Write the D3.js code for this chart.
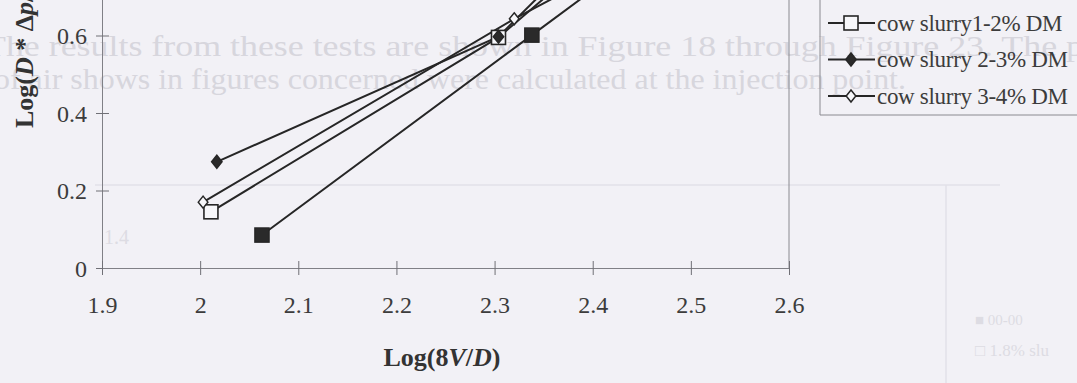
<!DOCTYPE html>
<html>
<head>
<meta charset="utf-8">
<script src="https://cdn.jsdelivr.net/npm/d3@7"></script>
<style>
  html, body { margin: 0; padding: 0; background: #f2f1f6; }
  svg { display: block; }
</style>
</head>
<body>
<svg id="chart" width="1077" height="383"></svg>
<script>
// Axis ticks
const xTicks = [1.9, 2, 2.1, 2.2, 2.3, 2.4, 2.5, 2.6];
const yTicks = [0, 0.2, 0.4, 0.6, 0.8];

// Series names (legend order)
const seriesNames = ["water", "cow slurry1-2% DM", "cow slurry 2-3% DM", "cow slurry 3-4% DM"];

// Log(8V/D) and Log(D*Δp/4L) per series
const waterX = [2.063, 2.338, 2.44];
const waterY = [0.085, 0.601, 0.792];
const slurry12X = [2.011, 2.304, 2.40];
const slurry12Y = [0.145, 0.595, 0.804];
const slurry23X = [2.017, 2.304, 2.38];
const slurry23Y = [0.274, 0.597, 0.789];
const slurry34X = [2.003, 2.320, 2.45];
const slurry34Y = [0.170, 0.643, 0.817];

const markers = ["squareFilled", "squareOpen", "diamondFilled", "diamondOpen"];

const series = [
  { name: seriesNames[0], xs: waterX, ys: waterY, marker: markers[0] },
  { name: seriesNames[1], xs: slurry12X, ys: slurry12Y, marker: markers[1] },
  { name: seriesNames[2], xs: slurry23X, ys: slurry23Y, marker: markers[2] },
  { name: seriesNames[3], xs: slurry34X, ys: slurry34Y, marker: markers[3] }
];

const svg = d3.select("#chart");
const serif = "'Liberation Serif', 'Times New Roman', serif";
const ink = "#262626";
const textInk = "#3c3c3c";

// Faint print-through from the facing page
const ghost = svg.append("g").attr("fill", "#d7d6dd").attr("font-family", serif).attr("font-size", 30);
ghost.append("text").attr("x", -16).attr("y", 56).attr("textLength", 1100).attr("lengthAdjust", "spacingAndGlyphs")
  .text("The results from these tests are shown in Figure 18 through Figure 23. The p");
ghost.append("text").attr("x", -6).attr("y", 89).attr("textLength", 912).attr("lengthAdjust", "spacingAndGlyphs")
  .text("of air shows in figures concerned were calculated at the injection point.");
const ghostLines = svg.append("g").attr("stroke", "#e2e1e8").attr("stroke-width", 1.5);
ghostLines.append("line").attr("x1", 95).attr("x2", 1000).attr("y1", 185).attr("y2", 185);
ghostLines.append("line").attr("x1", 946).attr("x2", 946).attr("y1", 185).attr("y2", 383);
const ghostTicks = svg.append("g").attr("fill", "#dddce3").attr("font-family", serif).attr("font-size", 20);
ghostTicks.append("text").attr("x", 104).attr("y", 244).text("1.4");
ghostTicks.append("text").attr("x", 975).attr("y", 325).attr("font-size", 15).text("■ 00-00");
ghostTicks.append("text").attr("x", 975).attr("y", 356).attr("font-size", 17).text("□ 1.8% slu");

// Scales
const x = d3.scaleLinear().domain([1.9, 2.6]).range([102, 789]);
const y = d3.scaleLinear().domain([0, 0.8]).range([268, 268 - 0.8 * 387.5]);

// Plot frame (right edge)
svg.append("line")
  .attr("x1", x(2.6)).attr("x2", x(2.6))
  .attr("y1", y(0.8)).attr("y2", y(0))
  .attr("stroke", "#8a8a90").attr("stroke-width", 1);

// Y axis with cross ticks
const yAxis = svg.append("g")
  .attr("transform", `translate(${x(1.9)},0)`)
  .call(d3.axisLeft(y).tickValues(yTicks).tickFormat(d3.format("~g")).tickSizeOuter(0));
yAxis.select(".domain").attr("stroke", "#808086").attr("stroke-width", 1);
yAxis.selectAll(".tick line").attr("x1", -6).attr("x2", 7).attr("stroke", "#707076");
yAxis.selectAll(".tick text")
  .attr("x", -15).attr("dy", "0.34em")
  .attr("font-family", serif).attr("font-size", 24).attr("fill", textInk);

// X axis with cross ticks
const xAxis = svg.append("g")
  .attr("transform", `translate(0,${y(0)})`)
  .call(d3.axisBottom(x).tickValues(xTicks).tickFormat(d3.format("~g")).tickSizeOuter(0));
xAxis.select(".domain").attr("stroke", "#808086").attr("stroke-width", 1);
xAxis.selectAll(".tick line").attr("y1", -7).attr("y2", 7).attr("stroke", "#707076");
xAxis.selectAll(".tick text")
  .attr("y", 45).attr("dy", 0)
  .attr("font-family", serif).attr("font-size", 24).attr("fill", textInk);

// Axis titles
const xTitle = svg.append("text")
  .attr("x", 442).attr("y", 366)
  .attr("text-anchor", "middle")
  .attr("font-family", serif).attr("font-size", 26).attr("font-weight", "bold").attr("fill", "#333");
xTitle.append("tspan").text("Log(8");
xTitle.append("tspan").attr("font-style", "italic").text("V");
xTitle.append("tspan").text("/");
xTitle.append("tspan").attr("font-style", "italic").text("D");
xTitle.append("tspan").text(")");

const yTitle = svg.append("text")
  .attr("transform", "translate(33,128) rotate(-90)")
  .attr("text-anchor", "start")
  .attr("font-family", serif).attr("font-size", 26).attr("font-weight", "bold").attr("fill", "#333");
yTitle.append("tspan").text("Log(");
yTitle.append("tspan").attr("font-style", "italic").text("D");
yTitle.append("tspan").text(" * Δ");
yTitle.append("tspan").attr("font-style", "italic").text("p");
yTitle.append("tspan").text("/4");
yTitle.append("tspan").attr("font-style", "italic").text("L");
yTitle.append("tspan").text(")");

// Marker drawing
function drawMarker(g, type, cx, cy) {
  if (type === "squareFilled" || type === "squareOpen") {
    const s = 14;
    g.append("rect")
      .attr("x", cx - s / 2).attr("y", cy - s / 2).attr("width", s).attr("height", s)
      .attr("fill", type === "squareFilled" ? "#2a2a2a" : "#f7f7fa")
      .attr("stroke", ink).attr("stroke-width", 1.6);
  } else {
    const r = type === "diamondFilled" ? 6.5 : 6;
    g.append("path")
      .attr("d", `M${cx},${cy - r}L${cx + r * 0.8},${cy}L${cx},${cy + r}L${cx - r * 0.8},${cy}Z`)
      .attr("fill", type === "diamondFilled" ? "#2a2a2a" : "#f7f7fa")
      .attr("stroke", ink).attr("stroke-width", 1.5);
  }
}

// Series lines and markers
const plot = svg.append("g");
const line = d3.line().x(d => x(d[0])).y(d => y(d[1]));
series.forEach(s => {
  const pts = s.xs.map((v, i) => [v, s.ys[i]]);
  plot.append("path")
    .datum(pts)
    .attr("d", line)
    .attr("fill", "none")
    .attr("stroke", ink)
    .attr("stroke-width", 2);
});
series.forEach(s => {
  const g = plot.append("g");
  s.xs.forEach((v, i) => drawMarker(g, s.marker, x(v), y(s.ys[i])));
});

// Legend
const legend = svg.append("g");
const rowY = [-13.5, 23, 59.5, 96];
legend.append("path")
  .attr("d", `M820,-40V115H1090`)
  .attr("fill", "none").attr("stroke", "#8a8a90").attr("stroke-width", 1);
series.forEach((s, i) => {
  const ry = rowY[i];
  legend.append("line")
    .attr("x1", 828).attr("x2", 875).attr("y1", ry).attr("y2", ry)
    .attr("stroke", ink).attr("stroke-width", 2);
  drawMarker(legend, s.marker, 851, ry);
  legend.append("text")
    .attr("x", 877).attr("y", ry).attr("dy", "0.33em")
    .attr("font-family", serif).attr("font-size", 23)
    .attr("letter-spacing", -0.3)
    .attr("fill", textInk)
    .text(s.name);
});
</script>
</body>
</html>
